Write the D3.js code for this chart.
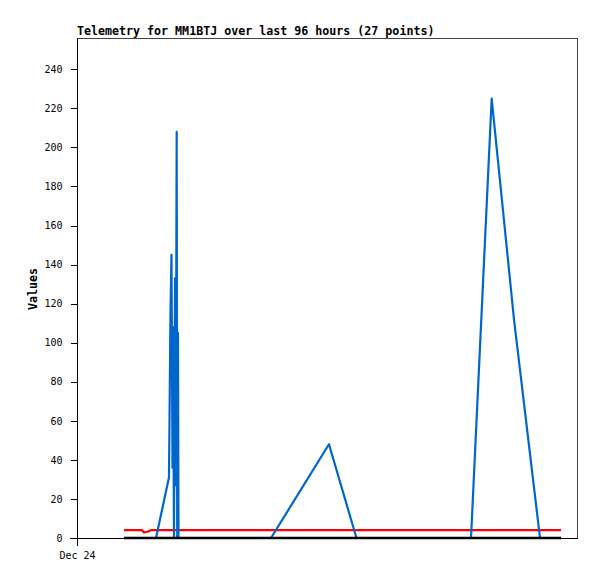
<!DOCTYPE html>
<html><head><meta charset="utf-8">
<script src="https://cdn.jsdelivr.net/npm/d3@7"></script>
<style>body{margin:0;background:#fff} svg{display:block}</style>
</head><body><svg id="c" width="597" height="579"></svg>
<script>
const title = "Telemetry for MM1BTJ over last 96 hours (27 points)";
const yLabel = "Values";
// hours since Dec 24 00:00 for each telemetry point
const hours = [9.02, 12.48, 12.86, 13.63, 14.21, 15.17, 17.66, 17.76, 17.95, 18.14, 18.34, 18.43, 18.62, 18.82, 18.95, 19.14, 19.24, 19.39, 19.49, 37.25, 48.38, 53.66, 75.65, 79.62, 83.90, 88.9, 92.93];
const blueValues  = [0, 0, 0, 0, 0, 0, 31, 60, 116, 145, 36, 108, 0, 133, 27, 208, 0, 105, 0, 0, 48, 0, 0, 225, 112, 0, 0];
const redValues   = [4, 4, 2.8, 3.3, 4, 4, 4, 4, 4, 4, 4, 4, 4, 4, 4, 4, 4, 4, 4, 4, 4, 4, 4, 4, 4, 4, 4];
const blackValues = [0, 0, 0, 0, 0, 0, 0, 0, 0, 0, 0, 0, 0, 0, 0, 0, 0, 0, 0, 0, 0, 0, 0, 0, 0, 0, 0];
const yTicks = [0, 20, 40, 60, 80, 100, 120, 140, 160, 180, 200, 220, 240];
const xTickLabels = ["Dec 24"];

const start = new Date(2023, 11, 24, 0, 0, 0);
const toDate = h => new Date(start.getTime() + h * 3600e3);
const svg = d3.select("#c");
const L = 77, R = 577, T = 38, B = 538;
const x = d3.scaleTime().domain([start, toDate(96)]).range([L, R]);
const y = d3.scaleLinear().domain([0, 256]).range([B, T]);
const mono = "'DejaVu Sans Mono', 'Liberation Mono', monospace";

// frame
svg.append("path").attr("d", `M${L},${T + 0.5}H${R + 0.5}V${B}`)
  .attr("fill", "none").attr("stroke", "#444").attr("stroke-width", 1).attr("shape-rendering", "crispEdges");

// series
const line = vals => d3.line().x((d, i) => x(toDate(hours[i]))).y(d => y(d))(vals);
const draw = (vals, color, w) => svg.append("path").attr("d", line(vals))
  .attr("fill", "none").attr("stroke", color).attr("stroke-width", w)
  .attr("stroke-linejoin", "round");
draw(redValues, "#ff0000", 2.2);
draw(blueValues, "#0066cc", 2.2);
draw(blackValues, "#000000", 2.6);

// y axis
const ya = d3.axisLeft(y).tickValues(yTicks).tickSize(7).tickPadding(8);
const gy = svg.append("g").attr("transform", `translate(${L + 0.5},0)`).call(ya);
gy.select(".domain").remove();
gy.selectAll(".tick line").attr("shape-rendering", "crispEdges").attr("stroke", "#000");
gy.selectAll("text").attr("font-family", mono).attr("font-size", 10).attr("fill", "#000");

// x axis
const xa = d3.axisBottom(x).tickValues(xTickLabels.map(() => start)).tickFormat((d, i) => xTickLabels[i]).tickSize(7).tickPadding(6);
const gx = svg.append("g").attr("transform", `translate(0,${B + 0.5})`).call(xa);
gx.select(".domain").remove();
gx.selectAll(".tick line").attr("shape-rendering", "crispEdges").attr("stroke", "#000");
gx.selectAll("text").attr("font-family", mono).attr("font-size", 10).attr("fill", "#000");

// axis lines
svg.append("line").attr("x1", 70).attr("x2", R + 1).attr("y1", B + 0.5).attr("y2", B + 0.5)
  .attr("stroke", "#000").attr("shape-rendering", "crispEdges");
svg.append("line").attr("x1", L + 0.5).attr("x2", L + 0.5).attr("y1", T).attr("y2", B + 7)
  .attr("stroke", "#000").attr("shape-rendering", "crispEdges");

// title
svg.append("text").attr("x", 77).attr("y", 34.5).text(title)
  .attr("font-family", mono).attr("font-size", 11.65).attr("font-weight", "bold");
// y label
svg.append("text").attr("transform", "translate(37,289) rotate(-90)").attr("text-anchor", "middle").text(yLabel)
  .attr("font-family", mono).attr("font-size", 11.65).attr("font-weight", "bold");
</script></body></html>
